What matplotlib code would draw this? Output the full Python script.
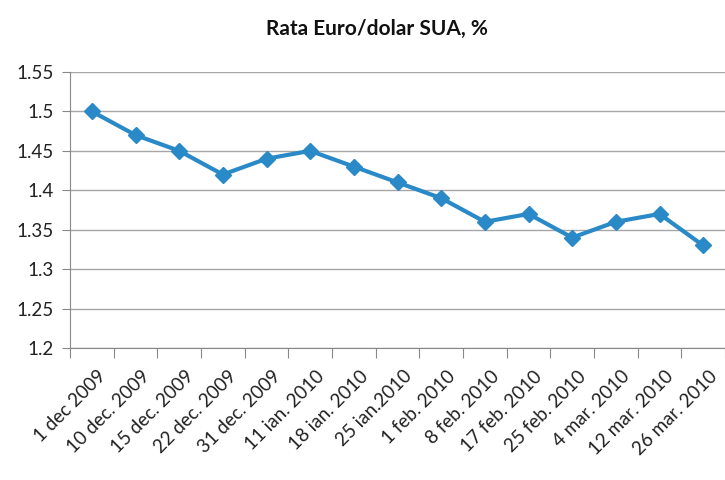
import matplotlib
matplotlib.use("Agg")
import matplotlib.pyplot as plt

dates = ["1 dec 2009", "10 dec. 2009", "15 dec. 2009", "22 dec. 2009",
         "31 dec. 2009", "11 ian. 2010", "18 ian. 2010", "25 ian.2010",
         "1 feb. 2010", "8 feb. 2010", "17 feb. 2010", "25 feb. 2010",
         "4 mar. 2010", "12 mar. 2010", "26 mar. 2010"]
rate = [1.50, 1.47, 1.45, 1.42, 1.44, 1.45, 1.43, 1.41,
        1.39, 1.36, 1.37, 1.34, 1.36, 1.37, 1.33]

plt.rcParams['font.family'] = ['Lato', 'DejaVu Sans']

fig = plt.figure(figsize=(7.25, 4.8), dpi=100)
ax = fig.add_axes([0.0966, 0.275, 0.9034, 0.575])

x = list(range(len(dates)))
ax.plot(x, rate, color='#2a8ac8', lw=3, marker='D', markersize=8.5, clip_on=False, zorder=3)

ax.set_ylim(1.2, 1.55)
ax.set_yticks([1.2, 1.25, 1.3, 1.35, 1.4, 1.45, 1.5, 1.55])
ax.set_yticklabels(["1.2", "1.25", "1.3", "1.35", "1.4", "1.45", "1.5", "1.55"], fontsize=13.5, color='#222222')
ax.yaxis.grid(True, color='#a6a6a6', lw=1)
ax.set_axisbelow(True)

ax.set_xlim(-0.5, 14.15)
ax.set_xticks([i - 0.5 for i in range(len(dates) + 1)], minor=False)
ax.set_xticklabels([])
ax.set_xticks([i + 0.12 for i in x], minor=True)
ax.set_xticklabels(dates, minor=True, rotation=45, ha='right', rotation_mode='anchor', fontsize=13.5, color='#222222')
ax.tick_params(axis='x', which='major', length=7, color='#888888', direction='out')
ax.tick_params(axis='x', which='minor', length=0, pad=14)
ax.tick_params(axis='y', length=6, color='#888888', pad=6)

for s in ['top', 'right']:
    ax.spines[s].set_visible(False)
ax.spines['left'].set_color('#888888')
ax.spines['bottom'].set_color('#888888')

fig.text(0.52, 0.94, "Rata Euro/dolar SUA, %", ha='center', va='center', fontsize=15, fontweight='bold', color='#111111')

fig.savefig("out.png", dpi=100)
